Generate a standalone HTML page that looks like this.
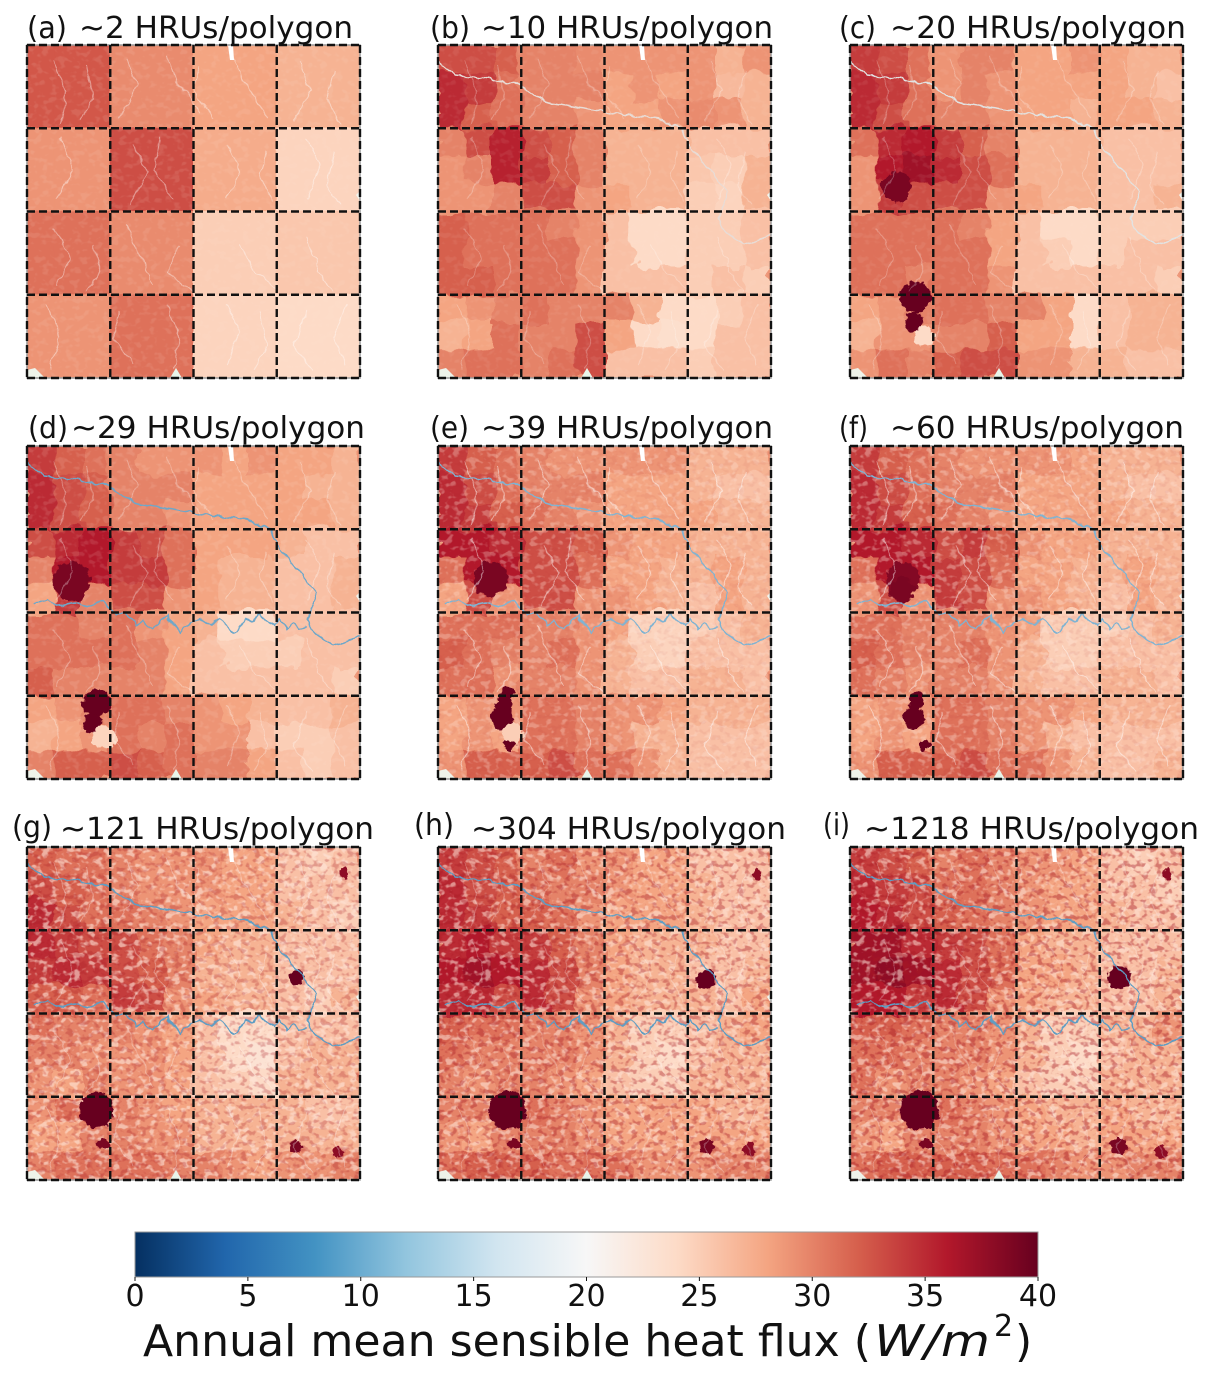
<!DOCTYPE html>
<html lang="en">
<head>
<meta charset="utf-8">
<title>Annual mean sensible heat flux by HRU density</title>
<style>
html,body{margin:0;padding:0;background:#fff;width:1212px;height:1377px;overflow:hidden}
svg{display:block}
text{font-family:"DejaVu Sans","Liberation Sans",sans-serif;fill:#111}
.title{font-size:30px}
.tick{font-size:30px}
</style>
</head>
<body>
<svg id="figure" width="1212" height="1377" viewBox="0 0 1212 1377" xmlns="http://www.w3.org/2000/svg">
<defs>
  <clipPath id="panel-clip"><rect x="0" y="0" width="333" height="333"/></clipPath>
  <filter id="edges-soft" x="-6%" y="-6%" width="112%" height="112%" color-interpolation-filters="sRGB">
    <feTurbulence type="fractalNoise" baseFrequency=".045" numOctaves="3" seed="4" result="n"/>
    <feDisplacementMap in="SourceGraphic" in2="n" scale="18" xChannelSelector="R" yChannelSelector="G"/>
  </filter>
  <filter id="edges-sharp" x="-6%" y="-6%" width="112%" height="112%" color-interpolation-filters="sRGB">
    <feTurbulence type="fractalNoise" baseFrequency=".12" numOctaves="2" seed="9" result="n"/>
    <feDisplacementMap in="SourceGraphic" in2="n" scale="3" xChannelSelector="R" yChannelSelector="G"/>
  </filter>
  <filter id="edges-feature" x="-30%" y="-30%" width="160%" height="160%" color-interpolation-filters="sRGB">
    <feTurbulence type="fractalNoise" baseFrequency=".14" numOctaves="3" seed="6" result="n"/>
    <feDisplacementMap in="SourceGraphic" in2="n" scale="9" xChannelSelector="R" yChannelSelector="G"/>
  </filter>
  <filter id="wiggle" x="-5%" y="-5%" width="110%" height="110%" color-interpolation-filters="sRGB">
    <feTurbulence type="fractalNoise" baseFrequency=".09" numOctaves="2" seed="17" result="n"/>
    <feDisplacementMap in="SourceGraphic" in2="n" scale="7" xChannelSelector="R" yChannelSelector="G"/>
  </filter>
  <filter id="speckle-light" x="0" y="0" width="100%" height="100%" color-interpolation-filters="sRGB">
    <feTurbulence type="fractalNoise" baseFrequency=".13 .17" numOctaves="2" seed="12"/>
    <feColorMatrix type="matrix" values="0 0 0 0 1  0 0 0 0 .9  0 0 0 0 .85  6 0 0 0 -3.1"/>
  </filter>
  <filter id="speckle-dark" x="0" y="0" width="100%" height="100%" color-interpolation-filters="sRGB">
    <feTurbulence type="fractalNoise" baseFrequency=".15 .19" numOctaves="2" seed="31"/>
    <feColorMatrix type="matrix" values="0 0 0 0 .66  0 0 0 0 .1  0 0 0 0 .14  0 6 0 0 -3.1"/>
  </filter>
  <g id="edge-notches">
    <path d="M201 0h5l1 15h-4z" fill="#fff"/>
    <path d="M0 333v-8l8-2 10 10z" fill="#eef3ea"/>
    <path d="M143 333l6-10 6 10z" fill="#e8f5ea"/>
    <path d="M329 150l4-4v10z" fill="#f4f7f0"/>
  </g>
  <linearGradient id="colorbar-gradient" x1="0" x2="1" y1="0" y2="0"></linearGradient>
</defs>

<g id="panel-0" transform="translate(27 45)"></g>
<g id="panel-1" transform="translate(438 45)"></g>
<g id="panel-2" transform="translate(850 45)"></g>
<g id="panel-3" transform="translate(27 446)"></g>
<g id="panel-4" transform="translate(438 446)"></g>
<g id="panel-5" transform="translate(850 446)"></g>
<g id="panel-6" transform="translate(27 847)"></g>
<g id="panel-7" transform="translate(438 847)"></g>
<g id="panel-8" transform="translate(850 847)"></g>

<text class="title" x="27" y="38" textLength="40" lengthAdjust="spacingAndGlyphs">(a)</text>
<text class="title" x="79" y="38" textLength="274" lengthAdjust="spacingAndGlyphs">~2 HRUs/polygon</text>
<text class="title" x="430" y="38" textLength="40" lengthAdjust="spacingAndGlyphs">(b)</text>
<text class="title" x="481" y="38" textLength="292" lengthAdjust="spacingAndGlyphs">~10 HRUs/polygon</text>
<text class="title" x="839" y="38" textLength="37" lengthAdjust="spacingAndGlyphs">(c)</text>
<text class="title" x="890" y="38" textLength="296" lengthAdjust="spacingAndGlyphs">~20 HRUs/polygon</text>
<text class="title" x="28" y="438" textLength="40" lengthAdjust="spacingAndGlyphs">(d)</text>
<text class="title" x="71" y="438" textLength="294" lengthAdjust="spacingAndGlyphs">~29 HRUs/polygon</text>
<text class="title" x="430" y="438" textLength="39" lengthAdjust="spacingAndGlyphs">(e)</text>
<text class="title" x="481" y="438" textLength="292" lengthAdjust="spacingAndGlyphs">~39 HRUs/polygon</text>
<text class="title" x="839" y="438" textLength="29" lengthAdjust="spacingAndGlyphs">(f)</text>
<text class="title" x="890" y="438" textLength="294" lengthAdjust="spacingAndGlyphs">~60 HRUs/polygon</text>
<text class="title" x="12" y="837" textLength="40" lengthAdjust="spacingAndGlyphs">(g)</text>
<text class="title" x="60" y="839" textLength="314" lengthAdjust="spacingAndGlyphs">~121 HRUs/polygon</text>
<text class="title" x="414" y="835" textLength="40" lengthAdjust="spacingAndGlyphs">(h)</text>
<text class="title" x="471" y="839" textLength="315" lengthAdjust="spacingAndGlyphs">~304 HRUs/polygon</text>
<text class="title" x="823" y="835" textLength="27" lengthAdjust="spacingAndGlyphs">(i)</text>
<text class="title" x="864" y="839" textLength="335" lengthAdjust="spacingAndGlyphs">~1218 HRUs/polygon</text>

<g id="colorbar">
  <rect x="135" y="1232" width="903" height="45" fill="url(#colorbar-gradient)" stroke="#999" stroke-width="1"/>
</g>
<text x="143" y="1356" font-size="44" textLength="728" lengthAdjust="spacingAndGlyphs">Annual mean sensible heat flux (</text>
<text x="874" y="1356" font-size="44" font-style="italic" textLength="116" lengthAdjust="spacingAndGlyphs">W/m</text>
<text x="994" y="1336" font-size="30">2</text>
<text x="1015" y="1356" font-size="44">)</text>
</svg>

<script>
// Colormap (RdBu reversed) anchors
const cmapValues = [0, 4, 8, 12, 16, 20, 24, 28, 32, 36, 40];
const cmapColors = ['#053061', '#2166ac', '#4393c3', '#92c5de', '#d1e5f0', '#f7f7f7', '#fddbc7', '#f4a582', '#d6604d', '#b2182b', '#67001f'];
const colorbarTicks = [0, 5, 10, 15, 20, 25, 30, 35, 40];

// Estimated flux (W/m2) on a 12x12 coarse grid for each panel
const panelA = [
[32.5,32.5,32.5,29.5,29.5,29.5,28,28,28,27,27,27],
[32.5,32.5,32.5,29.5,29.5,29.5,28,28,28,27,27,27],
[32.5,32.5,32.5,29.5,29.5,29.5,28,28,28,27,27,27],
[29,29,29,33,33,33,27.5,27.5,27.5,24.5,24.5,24.5],
[29,29,29,33,33,33,27.5,27.5,27.5,24.5,24.5,24.5],
[29,29,29,33,33,33,27.5,27.5,27.5,24.5,24.5,24.5],
[31,31,31,29.5,29.5,29.5,25,25,25,25.5,25.5,25.5],
[31,31,31,29.5,29.5,29.5,25,25,25,25.5,25.5,25.5],
[31,31,31,29.5,29.5,29.5,25,25,25,25.5,25.5,25.5],
[29,29,29,31,31,31,24.5,24.5,24.5,24,24,24],
[29,29,29,31,31,31,24.5,24.5,24.5,24,24,24],
[29,29,29,31,31,31,24.5,24.5,24.5,24,24,24]];
const panelB = [
[33,33,32,30,30,29.5,29,29,29,29,27,29],
[35,34,31,30,30,30,28,29,28,29,26.5,27],
[35,32,31,30,30,29,28,28,29,29.5,29,27],
[30,33,35.5,33,32,30,27,27,27,26,26,26],
[29,30,35.5,34,32,30,27,27,27,25.5,25,27],
[29,29,30,33,33,29,28,27,27,25,24.5,27],
[32,31,31,31,30,29,26,24,24,25,25,26],
[32,31,31,31,31,29,26,24,24,25,25,26],
[32,32,31,31,31,29,26,26,26,25,26,25],
[28,29,30,31,30,30,30,27,24,24,25,26],
[27,28,31,30,30,33,28,24,23.5,24,26,26],
[30,31,31,30,31,33,26,26,26,25,26,26]];
const panelC = [
[34,33,31,29,30,30,28,28,29,28,27,27],
[35,34,31,29,30,29,28,28,28,28,27,26],
[35,33,31,30,30,29,28,28,27,28,28,27],
[31,35,36,34,32,30,27,27,27,26,26,26],
[29,36,37,35,33,31,27,27,27,26,26,26],
[29,34,33,33,33,29,28,27,27,26,26,27],
[31,31,31,31,30,28,26,24,24,25,25,25],
[31,31,31,31,31,28,26,25,24,25,26,26],
[31,31,30,31,31,29,26,26,26,26,26,25],
[28,29,30,31,31,30,30,28,24,26,27,27],
[27,29,29,30,30,32,28,28,24,26,27,27],
[29,31,30,32,33,33,29,29,27,27,26,26]];
const panelD = [
[34,32,31,30,29,29,29,28,29,28,28,27],
[35,33,32,30,30,30,28,28,28,28,27,27],
[35,33,32,30,30,29,28,28,28,28,28,27],
[33,35,36,34,33,31,28,28,28,27,26,26],
[30,36,36,34,34,31,28,27,27,26,26,27],
[28,34,30,33,33,29,28,27,27,26,26,27],
[31,31,30,31,29,28,27,24,24,26,26,26],
[31,31,31,31,30,28,26,25,25,25,26,26],
[32,30,30,30,30,28,26,26,26,26,26,25],
[28,29,30,31,31,30,29,28,27,26,26,27],
[27,28,29,31,30,31,29,29,26,25,25,26],
[30,32,32,33,32,31,30,30,28,26,25,26]];
const panelE = [
[34,32,31,30,29,29,29,29,29,27,27,27],
[35,33,31,30,30,30,28,28,28,27,26,26],
[35,34,32,31,30,29,28,28,28,28,27,27],
[36,36,35,33,33,32,29,28,28,27,27,27],
[31,36,36,33,33,31,28,28,27,27,28,27],
[28,33,29,33,33,29,29,28,27,26,28,27],
[31,31,31,30,30,29,28,24.5,24.5,25,26,27],
[32,31,30,30,31,29,27,25,24.5,26,26,26],
[31,31,29,30,30,29,27,26,26,27,27,26],
[28,29,29,31,31,30,29,29,28,27,27,27],
[28,29,28,31,31,30,29,27,27,26,26,26],
[29,32,32,32,33,31,31,29,27,26,26,26]];
const panelF = [
[34,32,31,30,29,29,29,29,28,27,27,27],
[35,33,31,30,30,30,28,28,28,27,26,26],
[35,34,32,31,30,29,28,28,28,28,27,27],
[36,36,35,33,34,32,29,28,28,27,27,27],
[31,36,36,34,33,31,28,28,27,27,28,27],
[29,33,29,34,33,29,29,28,27,26,28,27],
[31,31,30,30,30,29,28,25,25,25,26,27],
[32,31,30,30,31,29,27,25,25,26,26,26],
[31,30,29,30,30,29,27,26,26,27,27,26],
[28,29,29,31,31,30,29,29,28,27,27,27],
[28,29,28,31,31,30,29,27,26,26,26,26],
[29,32,32,32,33,31,31,29,27,26,26,27]];
const panelG = [
[32,31,31,30,29,29,29,28,28,26,25,26],
[33,32,31,30,29,29,29,28,28,26,26,26],
[35,33,31,31,30,29,28,28,28,27,26,25],
[35,34,33,33,31,30,28,27,27,26,26,26],
[34,35,34,33,32,30,27,27,27,26,26,26],
[32,32,31,34,33,29,28,27,27,26,25,27],
[31,30,30,30,29,28,26,24,24,26,26,26],
[30,30,29,29,29,28,26,24,23,26,27,27],
[29,28,30,29,29,28,26,25,24,27,27,27],
[29,31,31,30,29,28,27,27,27,27,26,26],
[28,28,30,30,29,29,27,27,27,27,27,27],
[30,31,31,31,31,30,30,29,28,29,29,30]];
const panelH = [
[34,33,32,30,31,29,29,28,28,26,26,26],
[35,33,32,31,30,30,29,28,28,27,26,26],
[35,34,32,32,31,29,28,28,28,27,26,26],
[35,36,34,34,32,30,28,27,27,27,26,26],
[36,37,36,35,33,30,28,27,27,26,26,27],
[35,35,33,35,33,29,28,27,27,27,26,28],
[32,31,31,30,30,29,27,25,25,26,27,28],
[31,30,30,30,30,29,27,25,24,26,27,27],
[30,29,30,30,29,28,26,25,25,27,27,27],
[30,30,31,31,30,29,28,28,28,28,27,27],
[29,28,30,30,30,29,28,28,28,28,28,28],
[31,32,32,32,31,31,31,29,29,29,30,30]];
const panelI = [
[34,33,32,30,31,30,29,29,28,26,25,26],
[35,34,33,31,31,30,29,28,28,26,26,25],
[36,35,33,32,31,30,29,28,28,27,26,26],
[37,37,35,34,33,31,28,27,27,26,26,26],
[37,38,37,35,33,31,28,28,27,26,26,27],
[36,36,34,35,33,29,28,27,27,26,26,27],
[32,32,31,30,30,29,27,25,25,27,27,29],
[31,31,30,30,30,29,27,25,24,26,27,27],
[31,29,30,30,29,28,26,25,25,27,27,27],
[30,30,31,31,30,29,28,27,27,28,27,27],
[29,28,30,30,30,29,28,28,27,28,28,28],
[31,32,32,32,32,31,31,30,29,29,30,30]];
const panels = [panelA, panelB, panelC, panelD, panelE, panelF, panelG, panelH, panelI];

// Small features on the same grid: which panel, grid column, grid row, radius in cells, flux
const featurePanel = [2,2,2,2, 3,3,3,3, 4,4,4,4,4,4, 5,5,5,5,5, 6,6,6,6,6,6, 7,7,7,7,7,7, 8,8,8,8,8,8];
const featureCol   = [2.35,2.3,2.7,1.7, 2.5,2.35,2.8,1.6, 2.5,2.4,2.3,2.7,2.6,1.9, 2.4,2.3,2.7,1.9,1.9, 2.5,2.75,9.7,9.7,11.2,11.4, 2.5,2.75,9.65,9.7,11.2,11.5, 2.5,2.75,9.7,9.7,11.2,11.4];
const featureRow   = [9.1,10,10.5,5.1, 9.3,10,10.5,4.9, 8.95,9.3,9.8,10.35,10.8,4.8, 9.2,9.8,10.8,4.8,5.2, 9.5,10.7,4.7,10.8,11,0.95, 9.5,10.7,4.75,10.8,10.9,1, 9.5,10.7,4.7,10.8,11,1];
const featureSize  = [.55,.35,.35,.55, .5,.35,.42,.7, .25,.32,.42,.38,.2,.62, .3,.4,.2,.6,.45, .62,.22,.28,.22,.18,.16, .68,.22,.36,.26,.22,.18, .7,.22,.42,.3,.22,.18];
const featureFlux  = [40,40,24,39, 40,40,24.5,39, 40,40,40,25,40,39, 40,40,40,38.5,39, 40,39,40,39,38,38, 40,39,40,39,38,38, 40,39,40,39,38,38];

// Rivers as map-percent vertices
const riverMainX = [0,5,14,24,32,40,50,57,66,73,75,81,87,85,84,86,92,100];
const riverMainY = [5,9,10,12,17,18.5,20,21,22,25,30,37,44,50,52,56,60,57];
const riverSecondX = [2,6,9,14,19,23,25,27,29,31,33,35,37,40,42,44,46,49,52,55,58,60,62,64,66,68,70,72,74,76,78,80,82,84];
const riverSecondY = [47.5,46,48,47,48,46.5,49,51,50,52,54,52.5,55,53,51,54,56,53,52,54,52,54,56,54.5,52,53,50,52,54,52,55,53,55,54];
const streamPaths = [
 [[8,5],[12,14],[10,24]],[[30,4],[33,12],[28,22]],[[42,3],[45,11],[52,20]],[[62,4],[66,12],[72,22]],
 [[82,5],[85,14],[80,23]],[[92,8],[90,16],[94,24]],[[10,28],[14,38],[9,46]],[[32,30],[36,38],[31,48]],
 [[40,28],[38,38],[44,46]],[[60,30],[64,38],[60,46]],[[84,28],[88,36],[84,46]],[[92,32],[90,42],[94,48]],
 [[8,55],[13,64],[9,72]],[[30,54],[34,64],[38,72]],[[46,60],[42,68],[50,74]],[[64,60],[68,68],[75,73]],
 [[84,58],[88,68],[92,74]],[[6,78],[10,88],[7,97]],[[28,80],[26,88],[32,96]],[[42,78],[46,88],[44,97]],
 [[60,78],[64,86],[60,96]],[[84,80],[80,90],[86,98]],[[96,78],[92,88],[96,96]],
 [[18,6],[20,16],[16,22]],[[52,6],[50,14],[56,22]],[[72,32],[70,40],[74,47]],[[20,60],[22,68],[18,74]],[[70,80],[72,90],[68,98]]
];

// Per-panel styling keyed by panel order
const speckleLight = [.1, .08, .08, .12, .3, .36, .6, .55, .55];
const speckleDark = [0, 0, 0, 0, .06, .08, .28, .38, .42];
const riverColor = ['none', '#e8dcd6', '#e2e3e2', '#6ea7c9', '#7fb3d2', '#7fb3d2', '#5f9dc3', '#5f9dc3', '#5f9dc3'];
const streamOpacity = [.4, .25, .25, .3, .45, .45, .3, .25, .25];

const SVGNS = 'http://www.w3.org/2000/svg';
const PANEL_SIZE = 333;
const GRID_N = 12;

function make(tag, attrs) {
  const el = document.createElementNS(SVGNS, tag);
  for (const k in attrs) el.setAttribute(k, attrs[k]);
  return el;
}
function hexToRgb(h) {
  return [parseInt(h.slice(1, 3), 16), parseInt(h.slice(3, 5), 16), parseInt(h.slice(5, 7), 16)];
}
function fluxColor(v) {
  const c = Math.max(cmapValues[0], Math.min(cmapValues[cmapValues.length - 1], v));
  let i = 0;
  while (i < cmapValues.length - 2 && c > cmapValues[i + 1]) i++;
  const t = (c - cmapValues[i]) / (cmapValues[i + 1] - cmapValues[i]);
  const a = hexToRgb(cmapColors[i]);
  const b = hexToRgb(cmapColors[i + 1]);
  return 'rgb(' + a.map((x, j) => Math.round(x + (b[j] - x) * t)).join(',') + ')';
}
function colX(col) { return col * PANEL_SIZE / GRID_N; }
function rowY(row) { return row * PANEL_SIZE / GRID_N; }
function pctX(p) { return p / 100 * PANEL_SIZE; }
function pctY(p) { return p / 100 * PANEL_SIZE; }
function colorbarX(v) { return 135 + v / 40 * 903; }

panels.forEach(function (grid, p) {
  const root = document.getElementById('panel-' + p);
  const clip = make('g', { 'clip-path': 'url(#panel-clip)' });
  
  
  root.appendChild(clip);

  const base = make('rect', { x: 0, y: 0, width: PANEL_SIZE, height: PANEL_SIZE, fill: fluxColor(29) });
  
  
  clip.appendChild(base);

  const cells = make('g', { filter: p === 0 ? 'url(#edges-sharp)' : 'url(#edges-soft)' });
  
  
  clip.appendChild(cells);
  grid.forEach(function (row, r) {
    row.forEach(function (v, c) {
      const cell = make('rect', {
        x: colX(c) - .5, y: rowY(r) - .5,
        width: colX(c + 1) - colX(c) + 1, height: rowY(r + 1) - rowY(r) + 1,
        fill: fluxColor(v)
      });
      
      
      cells.appendChild(cell);
    });
  });

  if (speckleLight[p] > 0) {
    const sl = make('rect', { x: 0, y: 0, width: PANEL_SIZE, height: PANEL_SIZE, filter: 'url(#speckle-light)', opacity: speckleLight[p] });
    
    
    clip.appendChild(sl);
  }
  if (speckleDark[p] > 0) {
    const sd = make('rect', { x: 0, y: 0, width: PANEL_SIZE, height: PANEL_SIZE, filter: 'url(#speckle-dark)', opacity: speckleDark[p] });
    
    
    clip.appendChild(sd);
  }

  const features = make('g', { filter: 'url(#edges-feature)' });
  
  
  clip.appendChild(features);
  featurePanel.forEach(function (fp, i) {
    if (fp !== p) return;
    const spot = make('circle', {
      cx: colX(featureCol[i]), cy: rowY(featureRow[i]),
      r: colX(featureSize[i]), fill: fluxColor(featureFlux[i])
    });
    
    
    features.appendChild(spot);
  });

  const hydro = make('g', { filter: 'url(#wiggle)' });
  
  
  clip.appendChild(hydro);

  streamPaths.forEach(function (pts) {
    const s = make('polyline', {
      points: pts.map(function (q) { return pctX(q[0]) + ',' + pctY(q[1]); }).join(' '),
      fill: 'none', stroke: '#fff', 'stroke-width': 1.1, opacity: streamOpacity[p]
    });
    
    
    hydro.appendChild(s);
  });

  if (riverColor[p] !== 'none') {
    const main = make('polyline', {
      points: riverMainX.map(function (x, i) { return pctX(x) + ',' + pctY(riverMainY[i]); }).join(' '),
      fill: 'none', stroke: riverColor[p], 'stroke-width': 1.5
    });
    
    
    hydro.appendChild(main);
    if (p >= 3) {
      const second = make('polyline', {
        points: riverSecondX.map(function (x, i) { return pctX(x) + ',' + pctY(riverSecondY[i]); }).join(' '),
        fill: 'none', stroke: riverColor[p], 'stroke-width': 1.5
      });
      
      
      hydro.appendChild(second);
    }
  }

  const notches = make('use', { href: '#edge-notches' });
  
  
  clip.appendChild(notches);

  const frame = make('rect', { x: 0, y: 0, width: PANEL_SIZE, height: PANEL_SIZE, fill: 'none', stroke: '#999', 'stroke-width': 1.5 });
  
  
  root.appendChild(frame);

  [0, 3, 6, 9, 12].forEach(function (g) {
    const v = make('line', { x1: colX(g), x2: colX(g), y1: 0, y2: PANEL_SIZE, stroke: '#111', 'stroke-width': 2.4, 'stroke-dasharray': '8 4' });
    
    
    root.appendChild(v);
    const h = make('line', { x1: 0, x2: PANEL_SIZE, y1: rowY(g), y2: rowY(g), stroke: '#111', 'stroke-width': 2.4, 'stroke-dasharray': '8 4' });
    
    
    root.appendChild(h);
  });
});

const gradient = document.getElementById('colorbar-gradient');
cmapValues.forEach(function (v, i) {
  const stop = make('stop', { offset: (v / 40 * 100) + '%', 'stop-color': cmapColors[i] });
  gradient.appendChild(stop);
});

const colorbar = document.getElementById('colorbar');
colorbarTicks.forEach(function (v) {
  const tick = make('line', { x1: colorbarX(v), x2: colorbarX(v), y1: 1277, y2: 1281, stroke: '#111', 'stroke-width': 1 });
  
  
  colorbar.appendChild(tick);
  const label = make('text', { x: colorbarX(v), y: 1306, 'text-anchor': 'middle', class: 'tick' });
  
  
  label.textContent = String(v);
  colorbar.appendChild(label);
});
</script>
</body>
</html>
